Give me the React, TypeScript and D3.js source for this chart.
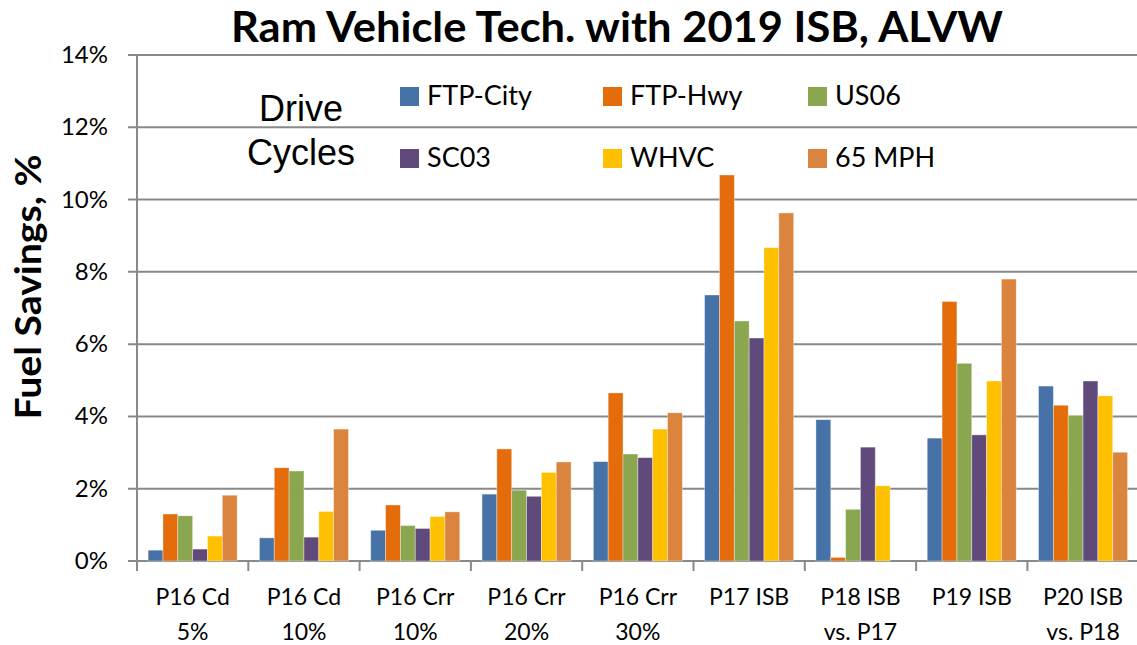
import React from "react";
import * as d3 from "d3";

// categories along the x axis (two lines each)
const categories = [
  ["P16 Cd", "5%"],
  ["P16 Cd", "10%"],
  ["P16 Crr", "10%"],
  ["P16 Crr", "20%"],
  ["P16 Crr", "30%"],
  ["P17 ISB", ""],
  ["P18 ISB", "vs. P17"],
  ["P19 ISB", ""],
  ["P20 ISB", "vs. P18"],
];

const seriesNames = ["FTP-City", "FTP-Hwy", "US06", "SC03", "WHVC", "65 MPH"];
const seriesColors = ["#4672A8", "#E46C0A", "#8AA64E", "#604A7B", "#FFC000", "#DB843D"];

// fuel savings, % (one value per category)
const ftpCity = [0.3, 0.64, 0.85, 1.85, 2.75, 7.36, 3.91, 3.4, 4.84];
const ftpHwy = [1.3, 2.58, 1.55, 3.1, 4.65, 10.68, 0.1, 7.18, 4.31];
const us06 = [1.25, 2.49, 0.98, 1.96, 2.96, 6.64, 1.43, 5.47, 4.03];
const sc03 = [0.33, 0.66, 0.9, 1.79, 2.86, 6.17, 3.15, 3.49, 4.98];
const whvc = [0.69, 1.37, 1.23, 2.45, 3.65, 8.67, 2.08, 4.98, 4.57];
const mph65 = [1.82, 3.65, 1.36, 2.74, 4.1, 9.63, 0, 7.8, 3.01];

const seriesValues = [ftpCity, ftpHwy, us06, sc03, whvc, mph65];
const yTicks = [0, 2, 4, 6, 8, 10, 12, 14];

const W = 1137;
const H = 645;
const left = 137;
const catW = 111.3;
const font = "Lato, 'Open Sans', sans-serif";

export default function App() {
  const x0 = d3
    .scaleBand<number>()
    .domain(categories.map((_, i) => i))
    .range([left, left + catW * categories.length])
    .padding(0);
  const bw = x0.bandwidth();
  const gap = (bw * 1.5) / 7.5;
  const x1 = d3
    .scaleBand<number>()
    .domain(seriesNames.map((_, i) => i))
    .range([gap / 2, bw - gap / 2])
    .padding(0);
  const y = d3.scaleLinear().domain([0, 14]).range([561, 55]);

  const legendCols = [400, 603, 808];
  const legendRows = [87, 149];

  return (
    <svg
      width={W}
      height={H}
      style={{ position: "absolute", left: 0, top: 0, background: "#fff" }}
      fontFamily={font}
    >
      <rect width={W} height={H} fill="#fff" />
      <text
        x={617}
        y={42}
        textAnchor="middle"
        fontSize={42}
        fontWeight="bold"
        fill="#000"
        textLength={772}
        lengthAdjust="spacingAndGlyphs"
      >
        Ram Vehicle Tech. with 2019 ISB, ALVW
      </text>

      {/* gridlines + y ticks */}
      {yTicks.map((t) => (
        <g key={t}>
          <line x1={128} x2={W} y1={y(t)} y2={y(t)} stroke="#898989" strokeWidth={2} />
          <text x={108} y={y(t) + 8} textAnchor="end" fontSize={24} fill="#000">
            {t}%
          </text>
        </g>
      ))}
      <line x1={left} x2={left} y1={y(14)} y2={571} stroke="#898989" strokeWidth={2} />
      {categories.map((_, i) => (
        <line
          key={i}
          x1={x0(i)! + bw}
          x2={x0(i)! + bw}
          y1={y(0)}
          y2={571}
          stroke="#898989"
          strokeWidth={2}
        />
      ))}

      {/* bars */}
      {categories.map((_, ci) => (
        <g key={ci} transform={`translate(${x0(ci)},0)`}>
          {seriesValues.map((vals, si) =>
            vals[ci] > 0 ? (
              <rect
                key={si}
                x={x1(si)}
                y={y(vals[ci])}
                width={x1.bandwidth()}
                height={y(0) - y(vals[ci])}
                fill={seriesColors[si]}
                stroke="rgba(255,255,255,0.45)"
                strokeWidth={0.8}
              />
            ) : null
          )}
        </g>
      ))}

      {/* x labels */}
      {categories.map((c, i) => (
        <text key={i} textAnchor="middle" fontSize={23} fill="#000">
          <tspan x={x0(i)! + bw / 2} y={605}>
            {c[0]}
          </tspan>
          {c[1] && (
            <tspan x={x0(i)! + bw / 2} y={640}>
              {c[1]}
            </tspan>
          )}
        </text>
      ))}

      {/* y title */}
      <text
        transform="translate(41,287) rotate(-90)"
        textAnchor="middle"
        fontSize={37}
        fontWeight="bold"
        fill="#000"
        textLength={265}
        lengthAdjust="spacingAndGlyphs"
      >
        Fuel Savings, %
      </text>

      {/* legend */}
      <text
        textAnchor="middle"
        fontSize={36}
        fill="#000"
        fontFamily="'Liberation Sans', Arial, sans-serif"
      >
        <tspan x={301} y={121}>
          Drive
        </tspan>
        <tspan x={301} y={165}>
          Cycles
        </tspan>
      </text>
      {seriesNames.map((name, i) => {
        const cx = legendCols[i % 3];
        const ry = legendRows[Math.floor(i / 3)];
        return (
          <g key={name}>
            <rect x={cx} y={ry} width={19} height={19} fill={seriesColors[i]} />
            <text x={cx + 27} y={ry + 18} fontSize={27} fill="#000">
              {name}
            </text>
          </g>
        );
      })}
    </svg>
  );
}
